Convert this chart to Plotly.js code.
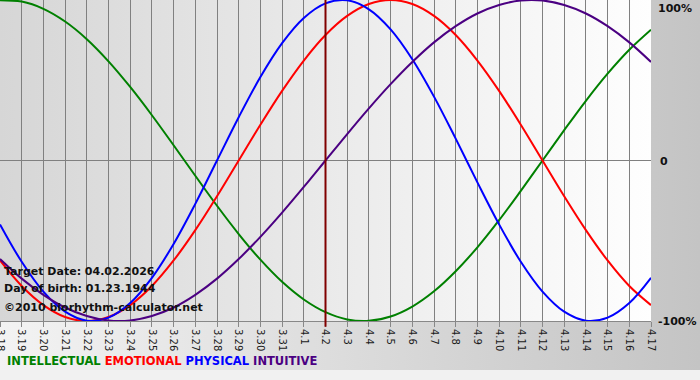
<!DOCTYPE html>
<html>
<head>
<meta charset="utf-8">
<script src="https://cdn.plot.ly/plotly-3.0.1.min.js"></script>
<style>
html,body{margin:0;padding:0;background:#f1f1f1;}
#wrap{position:relative;width:700px;height:380px;overflow:hidden;}
#bg{position:absolute;left:0;top:0;width:700px;height:370px;background:linear-gradient(to right,#f3f3f3,#c4c4c4);}
#chart{position:absolute;left:0;top:0;width:700px;height:380px;}
</style>
</head>
<body>
<div id="wrap"><div id="bg"></div><div id="chart"></div></div>
<script>
// Dates (day labels)
const dayLabels = ['3.18','3.19','3.20','3.21','3.22','3.23','3.24','3.25','3.26','3.27','3.28','3.29','3.30','3.31',
  '4.1','4.2','4.3','4.4','4.5','4.6','4.7','4.8','4.9','4.10','4.11','4.12','4.13','4.14','4.15','4.16','4.17'];
const targetIndex = 15; // 4.2

// Series values (percent), one per day
const intellectual = [99.9,99.0,94.5,86.6,75.6,61.8,45.8,28.2,9.5,-9.5,-28.2,-45.8,-61.8,-75.6,-86.6,-94.5,
  -99.0,-99.9,-97.2,-91.0,-81.5,-69.0,-54.1,-37.2,-18.9,0,18.9,37.2,54.1,69.0,81.5];
const emotional = [-62.3,-78.2,-90.1,-97.5,-100,-97.5,-90.1,-78.2,-62.3,-43.4,-22.3,0,22.3,43.4,62.3,78.2,
  90.1,97.5,100,97.5,90.1,78.2,62.3,43.4,22.3,0,-22.3,-43.4,-62.3,-78.2,-90.1];
const physical = [-39.8,-63.1,-81.7,-94.2,-99.8,-97.9,-88.8,-73.1,-52.0,-27.0,0,27.0,52.0,73.1,88.8,97.9,
  99.8,94.2,81.7,63.1,39.8,13.6,-13.6,-39.8,-63.1,-81.7,-94.2,-99.8,-97.9,-88.8,-73.1];
const intuitive = [-61.4,-73.6,-83.7,-91.6,-96.9,-99.7,-99.7,-96.9,-91.6,-83.7,-73.6,-61.4,-47.6,-32.5,-16.5,0,
  16.5,32.5,47.6,61.4,73.6,83.7,91.6,96.9,99.7,99.7,96.9,91.6,83.7,73.6,61.4];

const seriesNames = ['INTELLECTUAL','EMOTIONAL','PHYSICAL','INTUITIVE'];
const seriesColors = ['#008000','#ff0000','#0000ff','#4b0082'];
const seriesData = [intellectual, emotional, physical, intuitive];

const xIdx = dayLabels.map((_, i) => i);

const traces = seriesData.map((vals, k) => ({
  x: xIdx, y: vals, type: 'scatter', mode: 'lines', name: seriesNames[k],
  line: {color: seriesColors[k], width: 2, shape: 'spline', smoothing: 1},
  hoverinfo: 'skip'
}));

const W = 651, H = 321;
const px = v => v / W;
const py = v => 1 - v / H;

const legendText = seriesNames.map((n, k) => '<span style="color:' + seriesColors[k] + '">' + n + '</span>').join(' ');

const gradSvg = '<svg xmlns="http://www.w3.org/2000/svg" width="100" height="100" preserveAspectRatio="none">' +
  '<defs><linearGradient id="g" x1="0" x2="1" y1="0" y2="0"><stop offset="0" stop-color="#d6d6d6"/>' +
  '<stop offset="1" stop-color="#fefefe"/></linearGradient></defs><rect width="100" height="100" fill="url(#g)"/></svg>';

const boldFont = {size: 11, color: '#111', family: 'DejaVu Sans, sans-serif', weight: 'bold'};

const layout = {
  width: 700, height: 380,
  margin: {l: 0, r: 49, t: 0, b: 59, pad: 0},
  paper_bgcolor: 'rgba(0,0,0,0)',
  plot_bgcolor: 'rgba(0,0,0,0)',
  showlegend: false,
  font: {family: 'DejaVu Sans, Verdana, sans-serif', color: '#111'},
  images: [{
    source: 'data:image/svg+xml;charset=utf-8,' + encodeURIComponent(gradSvg),
    xref: 'paper', yref: 'paper', x: 0, y: 1, sizex: 1, sizey: 1,
    sizing: 'stretch', xanchor: 'left', yanchor: 'top', layer: 'below'
  }],
  xaxis: {
    range: [0, dayLabels.length - 1], fixedrange: true,
    tickmode: 'array', tickvals: xIdx, ticktext: dayLabels, tickangle: 90,
    ticklabeloverflow: 'allow',
    tickfont: {size: 10, color: '#1a1a1a', family: 'DejaVu Sans, sans-serif'},
    ticks: 'outside', ticklen: 5, tickcolor: '#888', tickwidth: 1,
    showgrid: true, gridcolor: '#808080', gridwidth: 1,
    showline: true, linecolor: '#888', linewidth: 1,
    zeroline: false
  },
  yaxis: {
    range: [-100, 100], fixedrange: true,
    tickmode: 'array', tickvals: [0], ticktext: [''],
    showgrid: true, gridcolor: '#808080', gridwidth: 1,
    zeroline: false, showline: false, ticks: ''
  },
  shapes: [{
    type: 'line', xref: 'x', yref: 'paper', x0: targetIndex, x1: targetIndex, y0: -0.018, y1: 1,
    line: {color: '#800000', width: 2}
  }],
  annotations: [
    {text: '100%', xref: 'paper', yref: 'paper', x: px(656), y: py(8), xanchor: 'left', yanchor: 'middle', showarrow: false, font: boldFont},
    {text: '0', xref: 'paper', yref: 'paper', x: px(658), y: py(162), xanchor: 'left', yanchor: 'middle', showarrow: false, font: boldFont},
    {text: '-100%', xref: 'paper', yref: 'paper', x: px(656), y: py(322), xanchor: 'left', yanchor: 'middle', showarrow: false, font: boldFont},
    {text: 'Target Date: 04.02.2026', xref: 'paper', yref: 'paper', x: px(2), y: py(271), xanchor: 'left', yanchor: 'middle', showarrow: false, font: boldFont},
    {text: 'Day of birth: 01.23.1944', xref: 'paper', yref: 'paper', x: px(2), y: py(288), xanchor: 'left', yanchor: 'middle', showarrow: false, font: boldFont},
    {text: '©2010 biorhythm-calculator.net', xref: 'paper', yref: 'paper', x: px(2), y: py(307), xanchor: 'left', yanchor: 'middle', showarrow: false, font: boldFont},
    {text: legendText, xref: 'paper', yref: 'paper', x: px(5), y: py(361), xanchor: 'left', yanchor: 'middle', showarrow: false,
      font: {size: 11.5, family: 'DejaVu Sans, sans-serif', weight: 'bold'}}
  ]
};

Plotly.newPlot('chart', traces, layout, {displayModeBar: false, staticPlot: true});
</script>
</body>
</html>
